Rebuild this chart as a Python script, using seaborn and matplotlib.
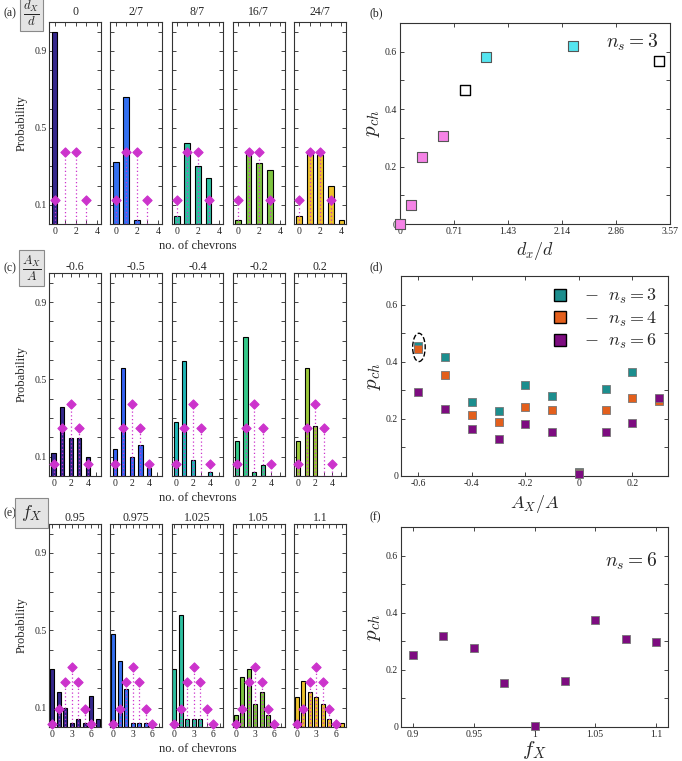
import matplotlib
matplotlib.use("Agg")
import matplotlib.pyplot as plt
from matplotlib.lines import Line2D
from matplotlib.patches import Ellipse
import seaborn as sns

sns.set_style("ticks")
plt.rcParams["font.family"] = ["Liberation Serif", "DejaVu Serif"]
plt.rcParams["mathtext.fontset"] = "cm"
plt.rcParams["xtick.direction"] = "in"
plt.rcParams["ytick.direction"] = "in"
plt.rcParams["axes.edgecolor"] = "#333333"
plt.rcParams["axes.linewidth"] = 0.8

# -----------------------------
# histogram data (probability of n chevrons)
# -----------------------------
titles_a = ["0", "2/7", "8/7", "16/7", "24/7"]
prob_a = [
    [1.0, 0, 0, 0, 0],
    [0.32, 0.66, 0.021, 0, 0],
    [0.041, 0.419, 0.30, 0.24, 0],
    [0.021, 0.379, 0.319, 0.279, 0],
    [0.041, 0.369, 0.36, 0.20, 0.021],
]
binom_a = [0.125, 0.375, 0.375, 0.125]

titles_c = ["-0.6", "-0.5", "-0.4", "-0.2", "0.2"]
prob_c = [
    [0.12, 0.359, 0.199, 0.199, 0.10],
    [0.14, 0.559, 0.10, 0.159, 0.039],
    [0.279, 0.597, 0.081, 0, 0.02],
    [0.18, 0.719, 0.02, 0.058, 0],
    [0.18, 0.559, 0.257, 0, 0],
]
binom_c = [0.0625, 0.25, 0.375, 0.25, 0.0625]

titles_e = ["0.95", "0.975", "1.025", "1.05", "1.1"]
prob_e = [
    [0.299, 0.18, 0.10, 0.02, 0.041, 0.02, 0.159, 0.041],
    [0.479, 0.339, 0.199, 0.02, 0.02, 0.02, 0, 0],
    [0.299, 0.578, 0.041, 0.041, 0.041, 0, 0, 0],
    [0.06, 0.259, 0.299, 0.12, 0.18, 0.06, 0, 0],
    [0.157, 0.238, 0.181, 0.157, 0.117, 0.04, 0, 0.019],
]
binom_e = [0.0156, 0.094, 0.234, 0.3125, 0.234, 0.094, 0.0156]

colors_a = ["#35288C", "#3470F0", "#2DC0A0", "#7EC540", "#EEC22C"]
colors_c = ["#35288C", "#3462F2", "#20B8B8", "#35C88A", "#9CC83A"]
colors_e = ["#35288C", "#3470F0", "#2DC0A0", "#7EC540", "#EEC22C"]

# -----------------------------
# p_ch data
# -----------------------------
dx_pink = [0, 0.143, 0.286, 0.571]
pch_pink = [0, 0.067, 0.234, 0.307]
dx_cyan = [1.143, 2.286]
pch_cyan = [0.58, 0.62]
dx_open = [0.857, 3.429]
pch_open = [0.467, 0.566]
dx_ticks = [0, 0.714, 1.429, 2.143, 2.857, 3.571]
dx_ticklabels = ["0", "0.71", "1.43", "2.14", "2.86", "3.57"]

ax_vals = [-0.6, -0.5, -0.4, -0.3, -0.2, -0.1, 0, 0.1, 0.2, 0.3]
pch_ns3 = [0.454, 0.415, 0.259, 0.227, 0.318, 0.28, 0.013, 0.304, 0.363, 0.27]
pch_ns4 = [0.443, 0.352, 0.215, 0.19, 0.24, 0.231, 0.01, 0.231, 0.274, 0.264]
pch_ns6 = [0.295, 0.236, 0.164, 0.128, 0.181, 0.154, 0.006, 0.154, 0.184, 0.272]

fx_vals = [0.9, 0.925, 0.95, 0.975, 1.0, 1.025, 1.05, 1.075, 1.1]
pch_fx = [0.251, 0.32, 0.278, 0.153, 0.005, 0.16, 0.374, 0.309, 0.296]

MAG = "#CC33CC"
C3, C4, C6 = "#1C8E8E", "#E35F1C", "#7D0C80"

W, H = 682, 761
fig = plt.figure(figsize=(W / 100, H / 100), dpi=100)


def px(l, t, r, b):
    return [l / W, 1 - b / H, (r - l) / W, (b - t) / H]


def hist_panel(ax, probs, binom, color, xlim, major, minor, width, title, title_pad):
    keep = [i for i in range(len(probs)) if probs[i] > 0]
    sns.barplot(x=keep, y=[probs[i] for i in keep], native_scale=True,
                color=color, saturation=1, width=width, edgecolor="black",
                linewidth=0.8, ax=ax, zorder=2)
    k = list(range(len(binom)))
    ax.vlines(k, 0, binom, colors=MAG, linestyles=(0, (1, 2)), lw=0.9, zorder=4)
    sns.scatterplot(x=k, y=binom, marker="D", s=22, color=MAG, edgecolor=MAG,
                    linewidth=0.8, zorder=5, ax=ax, clip_on=False)
    ax.set_xlim(*xlim)
    ax.set_ylim(0, 1.05)
    ax.set_xticks(major)
    ax.set_xticks(minor, minor=True)
    ax.set_xticklabels([str(m) for m in major])
    ax.set_yticks([0.1, 0.2, 0.3, 0.4, 0.5, 0.6, 0.7, 0.8, 0.9, 1.0])
    ax.set_yticklabels(["0.1", "", "", "", "0.5", "", "", "", "0.9", ""])
    ax.tick_params(which="both", top=True, right=True, length=3, width=0.6,
                   labelsize=7, pad=2)
    ax.set_xlabel("")
    ax.set_ylabel("")
    ax.set_title(title, fontsize=8.5, pad=title_pad)


rows = [
    (22, 224, titles_a, prob_a, binom_a, colors_a, (-0.5, 4.4), [0, 2, 4], [1, 3], 0.55, 5),
    (273, 476, titles_c, prob_c, binom_c, colors_c, (-0.5, 5.55), [0, 2, 4], [1, 3, 5], 0.5, 1),
    (524, 727, titles_e, prob_e, binom_e, colors_e, (-0.45, 7.55), [0, 3, 6], [1, 2, 4, 5, 7], 0.62, 1),
]

lefts = [49.3, 110.4, 171.5, 232.7, 293.9]
for top, bot, titles, probs, binom, cols, xlim, major, minor, width, pad in rows:
    for j in range(5):
        ax = fig.add_axes(px(lefts[j], top, lefts[j] + 51.8, bot))
        hist_panel(ax, probs[j], binom, cols[j], xlim, major, minor, width, titles[j], pad)
        if j > 0:
            ax.set_yticklabels([])
    fig.text(22 / W, 1 - (top + bot) / 2 / H, "Probability", rotation=90,
             ha="center", va="center", fontsize=9)
    fig.text(197.5 / W, 1 - (bot + 22) / H, "no. of chevrons",
             ha="center", va="center", fontsize=9)

# row labels with grey boxes
box = dict(boxstyle="square,pad=0.15", fc="#e4e4e4", ec="#8a8a8a", lw=0.8)
fig.text(3 / W, 1 - 13 / H, "(a)", fontsize=8.5, va="center")
fig.text(31.5 / W, 1 - 13.5 / H, r"$\frac{d_X}{d}$", fontsize=13, ha="center",
         va="center", bbox=box)
fig.text(3 / W, 1 - 268 / H, "(c)", fontsize=8.5, va="center")
fig.text(31.5 / W, 1 - 268 / H, r"$\frac{A_X}{A}$", fontsize=13, ha="center",
         va="center", bbox=box)
fig.text(3 / W, 1 - 513 / H, "(e)", fontsize=8.5, va="center")
fig.text(31.5 / W, 1 - 513 / H, r"$f_X$", fontsize=13, ha="center",
         va="center", bbox=dict(boxstyle="square,pad=0.3", fc="#e4e4e4", ec="#8a8a8a", lw=0.8))


def right_style(ax):
    ax.set_ylim(0, 0.7)
    ax.set_yticks([0, 0.2, 0.4, 0.6])
    ax.set_yticklabels(["0", "0.2", "0.4", "0.6"])
    ax.set_yticks([0.1, 0.3, 0.5], minor=True)
    ax.tick_params(which="both", top=True, right=True, length=3, width=0.6,
                   labelsize=7, pad=2)
    ax.set_ylabel(r"$p_{ch}$", fontsize=15, labelpad=2)


# (b)
axb = fig.add_axes(px(400, 23, 670, 224))
sns.scatterplot(x=dx_pink, y=pch_pink, marker="s", s=50, color="#F583E6",
                edgecolor="#555555", linewidth=0.8, ax=axb, clip_on=False, zorder=3)
sns.scatterplot(x=dx_cyan, y=pch_cyan, marker="s", s=50, color="#55E5F0",
                edgecolor="#555555", linewidth=0.8, ax=axb, clip_on=False, zorder=3)
sns.scatterplot(x=dx_open, y=pch_open, marker="s", s=50, color="white",
                edgecolor="black", linewidth=1.0, ax=axb, clip_on=False, zorder=3)
axb.set_xlim(0, 3.571)
axb.set_xticks(dx_ticks)
axb.set_xticklabels(dx_ticklabels)
right_style(axb)
axb.set_xlabel(r"$d_x/d$", fontsize=13, labelpad=3)
axb.text(0.86, 0.905, r"$n_s = 3$", transform=axb.transAxes, fontsize=14,
         ha="center", va="center")
fig.text(370 / W, 1 - 13 / H, "(b)", fontsize=8.5, va="center")

# (d)
axd = fig.add_axes(px(401, 276, 668, 476))
for vals, c in [(pch_ns3, C3), (pch_ns4, C4), (pch_ns6, C6)]:
    sns.scatterplot(x=ax_vals, y=vals, marker="s", s=32, color=c,
                    edgecolor="#777777", linewidth=0.6, ax=axd, clip_on=False, zorder=3)
axd.add_patch(Ellipse((-0.598, 0.45), 0.047, 0.099, fill=False, ls="--",
                      lw=1.0, ec="black", zorder=4))
axd.set_xlim(-0.665, 0.333)
axd.set_xticks([-0.6, -0.4, -0.2, 0, 0.2])
axd.set_xticklabels(["-0.6", "-0.4", "-0.2", "0", "0.2"])
right_style(axd)
axd.set_xlabel(r"$A_X/A$", fontsize=13, labelpad=4)
handles = [Line2D([], [], marker="s", ls="", ms=9, mfc=c, mec="black", mew=1)
           for c in (C3, C4, C6)]
axd.legend(handles, [r"$-\ \ n_s = 3$", r"$-\ \ n_s = 4$", r"$-\ \ n_s = 6$"],
           loc="upper right", frameon=False, fontsize=13, handletextpad=0.3,
           labelspacing=0.2, borderaxespad=0.2)
fig.text(370 / W, 1 - 267 / H, "(d)", fontsize=8.5, va="center")

# (f)
axf = fig.add_axes(px(401, 527, 668, 727))
sns.scatterplot(x=fx_vals, y=pch_fx, marker="s", s=32, color=C6,
                edgecolor="#777777", linewidth=0.6, ax=axf, clip_on=False, zorder=3)
axf.set_xlim(0.89, 1.11)
axf.set_xticks([0.9, 0.95, 1.0, 1.05, 1.1])
axf.set_xticklabels(["0.9", "0.95", "1", "1.05", "1.1"])
right_style(axf)
axf.set_xlabel(r"$f_X$", fontsize=15, labelpad=0)
axf.text(0.86, 0.83, r"$n_s = 6$", transform=axf.transAxes, fontsize=14,
         ha="center", va="center")
fig.text(370 / W, 1 - 517 / H, "(f)", fontsize=8.5, va="center")

fig.savefig("out.png", dpi=100)
